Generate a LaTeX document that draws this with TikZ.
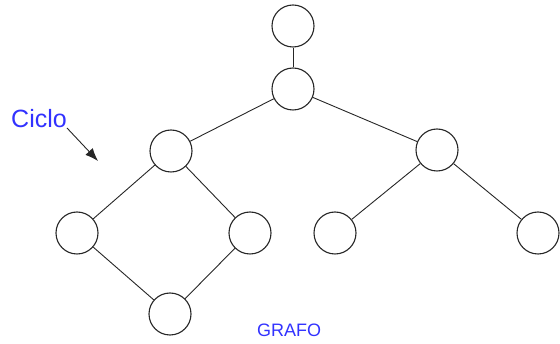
\documentclass[tikz,border=0pt]{standalone}
\usepackage{fontspec}
\setmainfont{Liberation Sans}
\usetikzlibrary{arrows.meta}
\definecolor{lblue}{RGB}{50,50,255}
\begin{document}
\begin{tikzpicture}[x=1pt,y=-1pt,
  vertex/.style={circle,draw=black!85,line width=1.1pt,minimum size=42pt,inner sep=0pt},
  edge/.style={draw=black!85,line width=0.9pt},
  lbl/.style={text=lblue,inner sep=0pt}]
\useasboundingbox (0,0) rectangle (560,344);
\node[vertex] (t) at (293,26) {};
\node[vertex] (m) at (293,89) {};
\node[vertex] (l) at (171,151) {};
\node[vertex] (r) at (437,150) {};
\node[vertex] (ll) at (77,233) {};
\node[vertex] (lr) at (250,233) {};
\node[vertex] (rl) at (335,233) {};
\node[vertex] (rr) at (538,233) {};
\node[vertex] (b) at (170,314) {};
\draw[edge] (t) -- (m);
\draw[edge] (m) -- (l);
\draw[edge] (m) -- (r);
\draw[edge] (l) -- (ll);
\draw[edge] (l) -- (lr);
\draw[edge] (ll) -- (b);
\draw[edge] (lr) -- (b);
\draw[edge] (r) -- (rl);
\draw[edge] (r) -- (rr);
\node[lbl,font=\fontsize{25}{28}\selectfont] (ciclo) at (39,119) {Ciclo};
\coordinate (tail) at (67,128);
\coordinate (tip) at (98,161);
\draw[edge,-{Latex[length=13pt,width=10pt]}] (tail) -- (tip);
\node[lbl,font=\fontsize{18}{20}\selectfont] (grafo) at (289,330) {GRAFO};
\end{tikzpicture}
\end{document}
